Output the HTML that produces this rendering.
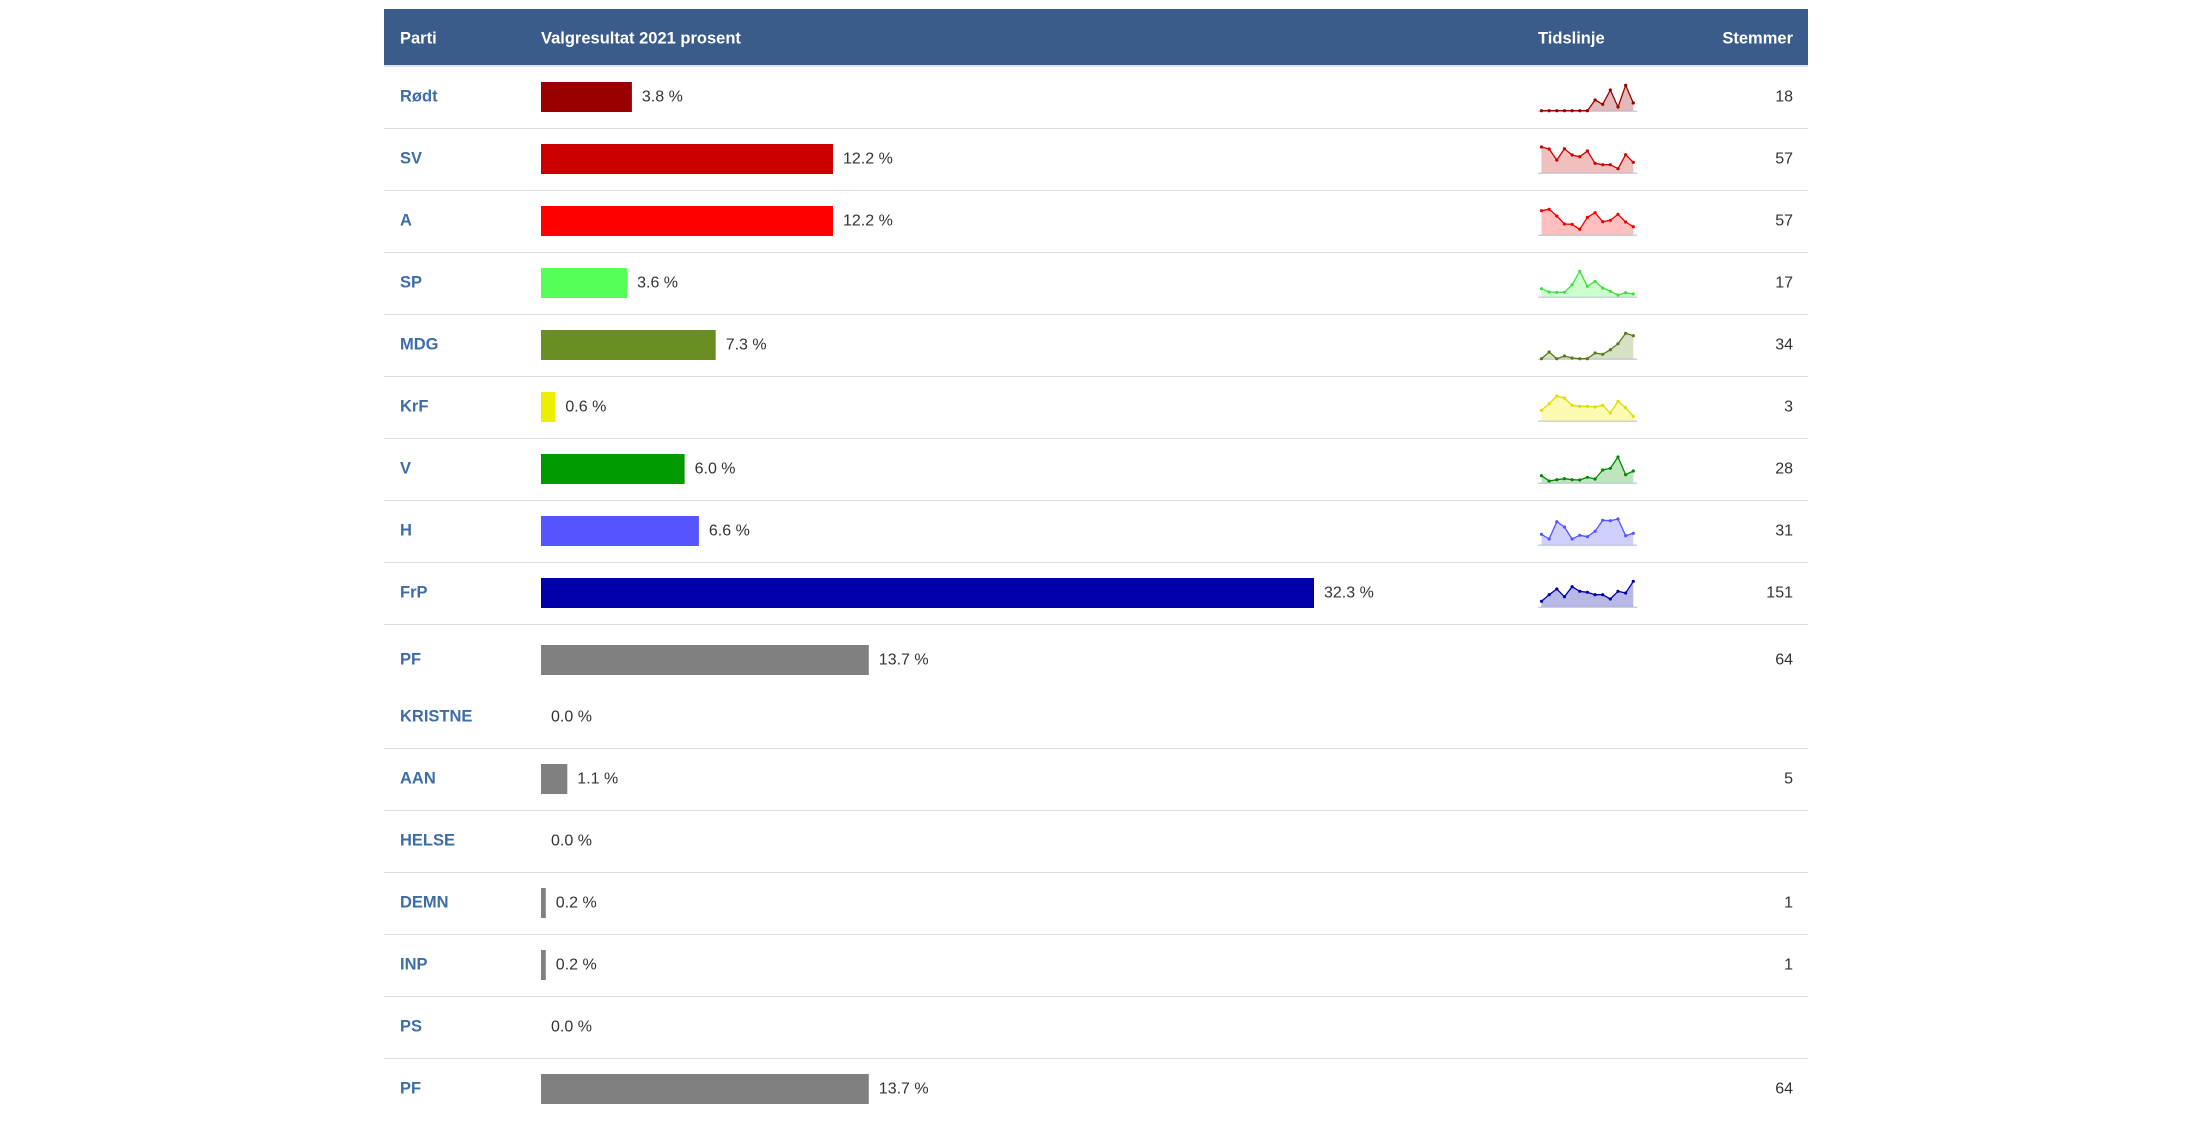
<!DOCTYPE html>
<html>
<head>
<meta charset="utf-8">
<style>
html,body{margin:0;padding:0;background:#fff;}
svg{display:block;}
text{font-family:"Liberation Sans",Arial,sans-serif;}
.h{font-weight:bold;font-size:16.5px;fill:#fff;}
.p{font-weight:bold;font-size:16.5px;fill:#3d6da6;}
.t{font-size:16px;fill:#333;}
</style>
</head>
<body>
<svg width="2199" height="1122" viewBox="0 0 2199 1122" xmlns="http://www.w3.org/2000/svg">
<rect x="0" y="0" width="2199" height="1122" fill="#fff"/>
<!-- header -->
<rect x="384" y="9" width="1424" height="56" fill="#3b5b8a"/>
<rect x="384" y="65" width="1424" height="2" fill="#d9e4f2"/>
<text class="h" x="400" y="43.6">Parti</text>
<text class="h" x="541" y="43.6">Valgresultat 2021 prosent</text>
<text class="h" x="1538" y="43.6">Tidslinje</text>
<text class="h" x="1793" y="43.6" text-anchor="end">Stemmer</text>

<!-- row lines -->
<g stroke="#dddddd" stroke-width="1">
<line x1="384" x2="1808" y1="128.5" y2="128.5"/>
<line x1="384" x2="1808" y1="190.5" y2="190.5"/>
<line x1="384" x2="1808" y1="252.5" y2="252.5"/>
<line x1="384" x2="1808" y1="314.5" y2="314.5"/>
<line x1="384" x2="1808" y1="376.5" y2="376.5"/>
<line x1="384" x2="1808" y1="438.5" y2="438.5"/>
<line x1="384" x2="1808" y1="500.5" y2="500.5"/>
<line x1="384" x2="1808" y1="562.5" y2="562.5"/>
<line x1="384" x2="1808" y1="624.5" y2="624.5"/>
<line x1="384" x2="1808" y1="748.5" y2="748.5"/>
<line x1="384" x2="1808" y1="810.5" y2="810.5"/>
<line x1="384" x2="1808" y1="872.5" y2="872.5"/>
<line x1="384" x2="1808" y1="934.5" y2="934.5"/>
<line x1="384" x2="1808" y1="996.5" y2="996.5"/>
<line x1="384" x2="1808" y1="1058.5" y2="1058.5"/>
</g>

<!-- Rødt -->
<text class="p" x="400" y="101.7">Rødt</text>
<rect x="541" y="82" width="90.9" height="30" fill="#990000"/>
<text class="t" x="641.9" y="101.7">3.8 %</text>
<text class="t" x="1793" y="101.7" text-anchor="end">18</text>

<!-- SV -->
<text class="p" x="400" y="163.7">SV</text>
<rect x="541" y="144" width="292" height="30" fill="#cc0000"/>
<text class="t" x="843" y="163.7">12.2 %</text>
<text class="t" x="1793" y="163.7" text-anchor="end">57</text>

<!-- A -->
<text class="p" x="400" y="225.7">A</text>
<rect x="541" y="206" width="292" height="30" fill="#ff0000"/>
<text class="t" x="843" y="225.7">12.2 %</text>
<text class="t" x="1793" y="225.7" text-anchor="end">57</text>

<!-- SP -->
<text class="p" x="400" y="287.7">SP</text>
<rect x="541" y="268" width="86.1" height="30" fill="#55ff55"/>
<text class="t" x="637.1" y="287.7">3.6 %</text>
<text class="t" x="1793" y="287.7" text-anchor="end">17</text>

<!-- MDG -->
<text class="p" x="400" y="349.7">MDG</text>
<rect x="541" y="330" width="174.7" height="30" fill="#6b8e23"/>
<text class="t" x="725.7" y="349.7">7.3 %</text>
<text class="t" x="1793" y="349.7" text-anchor="end">34</text>

<!-- KrF -->
<text class="p" x="400" y="411.7">KrF</text>
<rect x="541" y="392" width="14.4" height="30" fill="#eeee00"/>
<text class="t" x="565.4" y="411.7">0.6 %</text>
<text class="t" x="1793" y="411.7" text-anchor="end">3</text>

<!-- V -->
<text class="p" x="400" y="473.7">V</text>
<rect x="541" y="454" width="143.6" height="30" fill="#009900"/>
<text class="t" x="694.6" y="473.7">6.0 %</text>
<text class="t" x="1793" y="473.7" text-anchor="end">28</text>

<!-- H -->
<text class="p" x="400" y="535.7">H</text>
<rect x="541" y="516" width="157.9" height="30" fill="#5555ff"/>
<text class="t" x="708.9" y="535.7">6.6 %</text>
<text class="t" x="1793" y="535.7" text-anchor="end">31</text>

<!-- FrP -->
<text class="p" x="400" y="597.7">FrP</text>
<rect x="541" y="578" width="773" height="30" fill="#0000aa"/>
<text class="t" x="1324" y="597.7">32.3 %</text>
<text class="t" x="1793" y="597.7" text-anchor="end">151</text>

<!-- PF -->
<text class="p" x="400" y="664.5">PF</text>
<rect x="541" y="645" width="327.8" height="30" fill="#808080"/>
<text class="t" x="878.8" y="664.5">13.7 %</text>
<text class="t" x="1793" y="664.5" text-anchor="end">64</text>

<!-- KRISTNE -->
<text class="p" x="400" y="721.5">KRISTNE</text>
<text class="t" x="551" y="721.5">0.0 %</text>

<!-- AAN -->
<text class="p" x="400" y="783.7">AAN</text>
<rect x="541" y="764" width="26.3" height="30" fill="#808080"/>
<text class="t" x="577.3" y="783.7">1.1 %</text>
<text class="t" x="1793" y="783.7" text-anchor="end">5</text>

<!-- HELSE -->
<text class="p" x="400" y="845.7">HELSE</text>
<text class="t" x="551" y="845.7">0.0 %</text>

<!-- DEMN -->
<text class="p" x="400" y="907.7">DEMN</text>
<rect x="541" y="888" width="4.8" height="30" fill="#808080"/>
<text class="t" x="555.8" y="907.7">0.2 %</text>
<text class="t" x="1793" y="907.7" text-anchor="end">1</text>

<!-- INP -->
<text class="p" x="400" y="969.7">INP</text>
<rect x="541" y="950" width="4.8" height="30" fill="#808080"/>
<text class="t" x="555.8" y="969.7">0.2 %</text>
<text class="t" x="1793" y="969.7" text-anchor="end">1</text>

<!-- PS -->
<text class="p" x="400" y="1031.7">PS</text>
<text class="t" x="551" y="1031.7">0.0 %</text>

<!-- PF 2 -->
<text class="p" x="400" y="1093.7">PF</text>
<rect x="541" y="1074" width="327.8" height="30" fill="#808080"/>
<text class="t" x="878.8" y="1093.7">13.7 %</text>
<text class="t" x="1793" y="1093.7" text-anchor="end">64</text>

<!-- sparklines -->
<defs>
<marker id="m1" viewBox="0 0 4 4" refX="2" refY="2" markerWidth="4" markerHeight="4" markerUnits="userSpaceOnUse"><circle cx="2" cy="2" r="1.6" fill="#990000"/></marker>
<marker id="m2" viewBox="0 0 4 4" refX="2" refY="2" markerWidth="4" markerHeight="4" markerUnits="userSpaceOnUse"><circle cx="2" cy="2" r="1.6" fill="#cc0000"/></marker>
<marker id="m3" viewBox="0 0 4 4" refX="2" refY="2" markerWidth="4" markerHeight="4" markerUnits="userSpaceOnUse"><circle cx="2" cy="2" r="1.6" fill="#ee0000"/></marker>
<marker id="m4" viewBox="0 0 4 4" refX="2" refY="2" markerWidth="4" markerHeight="4" markerUnits="userSpaceOnUse"><circle cx="2" cy="2" r="1.6" fill="#44dd44"/></marker>
<marker id="m5" viewBox="0 0 4 4" refX="2" refY="2" markerWidth="4" markerHeight="4" markerUnits="userSpaceOnUse"><circle cx="2" cy="2" r="1.6" fill="#5b7a1e"/></marker>
<marker id="m6" viewBox="0 0 4 4" refX="2" refY="2" markerWidth="4" markerHeight="4" markerUnits="userSpaceOnUse"><circle cx="2" cy="2" r="1.6" fill="#dddd00"/></marker>
<marker id="m7" viewBox="0 0 4 4" refX="2" refY="2" markerWidth="4" markerHeight="4" markerUnits="userSpaceOnUse"><circle cx="2" cy="2" r="1.6" fill="#008800"/></marker>
<marker id="m8" viewBox="0 0 4 4" refX="2" refY="2" markerWidth="4" markerHeight="4" markerUnits="userSpaceOnUse"><circle cx="2" cy="2" r="1.6" fill="#5555ff"/></marker>
<marker id="m9" viewBox="0 0 4 4" refX="2" refY="2" markerWidth="4" markerHeight="4" markerUnits="userSpaceOnUse"><circle cx="2" cy="2" r="1.6" fill="#0000aa"/></marker>
</defs>

<g transform="translate(1541.5,66)">
<line x1="-3.5" x2="95.8" y1="45.2" y2="45.2" stroke="#ccd2dc" stroke-width="1.5"/>
<polygon fill="#990000" fill-opacity="0.28" points="0,44.7 7.65,44.7 15.3,44.7 22.95,44.7 30.6,44.7 38.25,44.7 45.9,44.7 53.55,34 61.2,38.3 68.85,24 76.5,41 84.15,19.3 91.8,37 91.8,44.7"/>
<polyline fill="none" stroke="#990000" stroke-width="1.3" stroke-linejoin="round" marker-start="url(#m1)" marker-mid="url(#m1)" marker-end="url(#m1)" points="0,44.7 7.65,44.7 15.3,44.7 22.95,44.7 30.6,44.7 38.25,44.7 45.9,44.7 53.55,34 61.2,38.3 68.85,24 76.5,41 84.15,19.3 91.8,37"/>
</g>

<g transform="translate(1541.5,128)">
<line x1="-3.5" x2="95.8" y1="45.2" y2="45.2" stroke="#ccd2dc" stroke-width="1.5"/>
<polygon fill="#cc0000" fill-opacity="0.25" points="0,44.7 0,19 7.65,21 15.3,32 22.95,20.7 30.6,27 38.25,28.7 45.9,23 53.55,35.3 61.2,36.7 68.85,36.7 76.5,40.7 84.15,26.7 91.8,34.3 91.8,44.7"/>
<polyline fill="none" stroke="#cc0000" stroke-width="1.3" stroke-linejoin="round" marker-start="url(#m2)" marker-mid="url(#m2)" marker-end="url(#m2)" points="0,19 7.65,21 15.3,32 22.95,20.7 30.6,27 38.25,28.7 45.9,23 53.55,35.3 61.2,36.7 68.85,36.7 76.5,40.7 84.15,26.7 91.8,34.3"/>
</g>

<g transform="translate(1541.5,190)">
<line x1="-3.5" x2="95.8" y1="45.2" y2="45.2" stroke="#ccd2dc" stroke-width="1.5"/>
<polygon fill="#ff0000" fill-opacity="0.25" points="0,44.7 0,20.7 7.65,19.3 15.3,26 22.95,34 30.6,34.3 38.25,39.3 45.9,27.3 53.55,22.7 61.2,31.7 68.85,30.3 76.5,24.3 84.15,32 91.8,36.7 91.8,44.7"/>
<polyline fill="none" stroke="#ee0000" stroke-width="1.3" stroke-linejoin="round" marker-start="url(#m3)" marker-mid="url(#m3)" marker-end="url(#m3)" points="0,20.7 7.65,19.3 15.3,26 22.95,34 30.6,34.3 38.25,39.3 45.9,27.3 53.55,22.7 61.2,31.7 68.85,30.3 76.5,24.3 84.15,32 91.8,36.7"/>
</g>

<g transform="translate(1541.5,252)">
<line x1="-3.5" x2="95.8" y1="45.2" y2="45.2" stroke="#ccd2dc" stroke-width="1.5"/>
<polygon fill="#55ff55" fill-opacity="0.3" points="0,44.7 0,36.7 7.65,40 15.3,40.3 22.95,40.3 30.6,32.7 38.25,19.3 45.9,34.3 53.55,29.3 61.2,36 68.85,39.3 76.5,43 84.15,40.7 91.8,42 91.8,44.7"/>
<polyline fill="none" stroke="#44dd44" stroke-width="1.3" stroke-linejoin="round" marker-start="url(#m4)" marker-mid="url(#m4)" marker-end="url(#m4)" points="0,36.7 7.65,40 15.3,40.3 22.95,40.3 30.6,32.7 38.25,19.3 45.9,34.3 53.55,29.3 61.2,36 68.85,39.3 76.5,43 84.15,40.7 91.8,42"/>
</g>

<g transform="translate(1541.5,314)">
<line x1="-3.5" x2="95.8" y1="45.2" y2="45.2" stroke="#ccd2dc" stroke-width="1.5"/>
<polygon fill="#6b8e23" fill-opacity="0.28" points="0,44.7 7.65,38 15.3,44.7 22.95,42 30.6,44 38.25,44.7 45.9,44.7 53.55,39 61.2,40.3 68.85,35.7 76.5,29.7 84.15,19.3 91.8,21.7 91.8,44.7"/>
<polyline fill="none" stroke="#5b7a1e" stroke-width="1.3" stroke-linejoin="round" marker-start="url(#m5)" marker-mid="url(#m5)" marker-end="url(#m5)" points="0,44.7 7.65,38 15.3,44.7 22.95,42 30.6,44 38.25,44.7 45.9,44.7 53.55,39 61.2,40.3 68.85,35.7 76.5,29.7 84.15,19.3 91.8,21.7"/>
</g>

<g transform="translate(1541.5,376)">
<line x1="-3.5" x2="95.8" y1="45.2" y2="45.2" stroke="#ccd2dc" stroke-width="1.5"/>
<polygon fill="#eeee00" fill-opacity="0.3" points="0,44.7 0,34.3 7.65,27.7 15.3,20 22.95,22 30.6,29.3 38.25,30.3 45.9,30.3 53.55,31 61.2,29.3 68.85,37 76.5,25.3 84.15,31.7 91.8,40.3 91.8,44.7"/>
<polyline fill="none" stroke="#dddd00" stroke-width="1.3" stroke-linejoin="round" marker-start="url(#m6)" marker-mid="url(#m6)" marker-end="url(#m6)" points="0,34.3 7.65,27.7 15.3,20 22.95,22 30.6,29.3 38.25,30.3 45.9,30.3 53.55,31 61.2,29.3 68.85,37 76.5,25.3 84.15,31.7 91.8,40.3"/>
</g>

<g transform="translate(1541.5,438)">
<line x1="-3.5" x2="95.8" y1="45.2" y2="45.2" stroke="#ccd2dc" stroke-width="1.5"/>
<polygon fill="#009900" fill-opacity="0.25" points="0,44.7 0,37.7 7.65,43 15.3,41.7 22.95,40.7 30.6,41.7 38.25,42 45.9,39.3 53.55,41 61.2,32 68.85,30.3 76.5,19 84.15,36.7 91.8,33 91.8,44.7"/>
<polyline fill="none" stroke="#008800" stroke-width="1.3" stroke-linejoin="round" marker-start="url(#m7)" marker-mid="url(#m7)" marker-end="url(#m7)" points="0,37.7 7.65,43 15.3,41.7 22.95,40.7 30.6,41.7 38.25,42 45.9,39.3 53.55,41 61.2,32 68.85,30.3 76.5,19 84.15,36.7 91.8,33"/>
</g>

<g transform="translate(1541.5,500)">
<line x1="-3.5" x2="95.8" y1="45.2" y2="45.2" stroke="#ccd2dc" stroke-width="1.5"/>
<polygon fill="#5555ff" fill-opacity="0.28" points="0,44.7 0,34.3 7.65,39 15.3,21.7 22.95,27 30.6,39 38.25,35.3 45.9,36.7 53.55,31.3 61.2,20.3 68.85,20.7 76.5,19 84.15,35.7 91.8,33.3 91.8,44.7"/>
<polyline fill="none" stroke="#5555ff" stroke-width="1.3" stroke-linejoin="round" marker-start="url(#m8)" marker-mid="url(#m8)" marker-end="url(#m8)" points="0,34.3 7.65,39 15.3,21.7 22.95,27 30.6,39 38.25,35.3 45.9,36.7 53.55,31.3 61.2,20.3 68.85,20.7 76.5,19 84.15,35.7 91.8,33.3"/>
</g>

<g transform="translate(1541.5,562)">
<line x1="-3.5" x2="95.8" y1="45.2" y2="45.2" stroke="#ccd2dc" stroke-width="1.5"/>
<polygon fill="#0000aa" fill-opacity="0.28" points="0,44.7 0,39.3 7.65,32.7 15.3,27 22.95,34.7 30.6,24.7 38.25,29.3 45.9,30.3 53.55,32.7 61.2,32.7 68.85,37 76.5,29.3 84.15,31 91.8,19.3 91.8,44.7"/>
<polyline fill="none" stroke="#0000aa" stroke-width="1.3" stroke-linejoin="round" marker-start="url(#m9)" marker-mid="url(#m9)" marker-end="url(#m9)" points="0,39.3 7.65,32.7 15.3,27 22.95,34.7 30.6,24.7 38.25,29.3 45.9,30.3 53.55,32.7 61.2,32.7 68.85,37 76.5,29.3 84.15,31 91.8,19.3"/>
</g>
</svg>
</body>
</html>
